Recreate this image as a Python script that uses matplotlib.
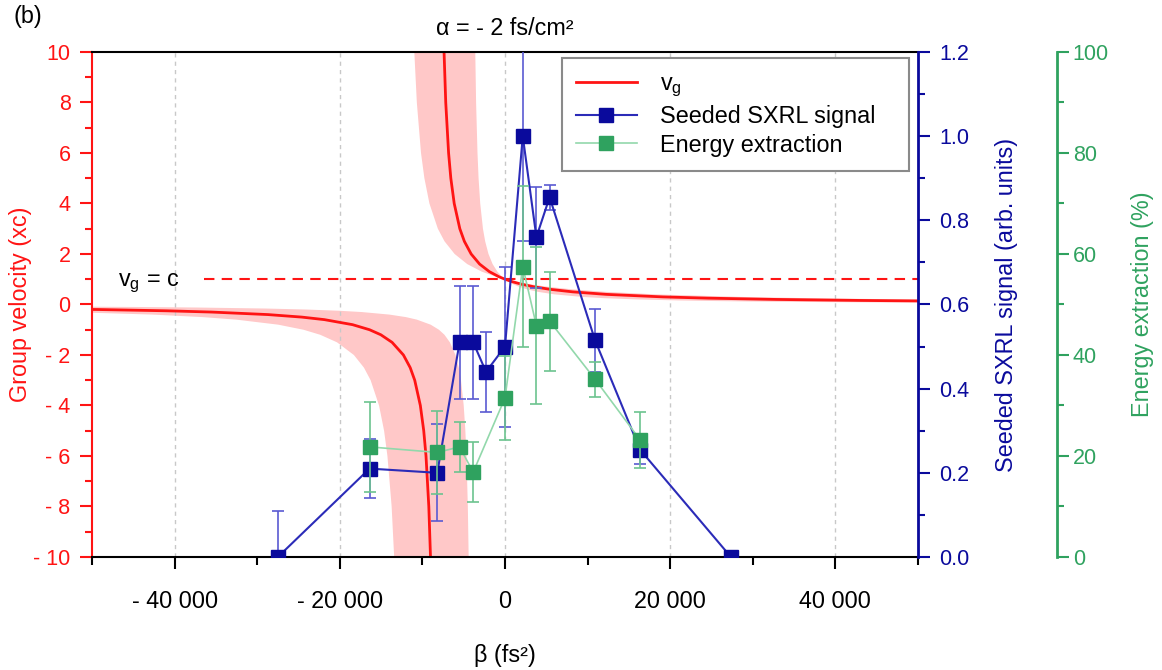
import matplotlib
matplotlib.use("Agg")
import matplotlib.pyplot as plt
from matplotlib.lines import Line2D
from matplotlib.ticker import MultipleLocator, FuncFormatter

plt.rcParams['font.family'] = ['Liberation Sans', 'DejaVu Sans']
plt.rcParams['mathtext.fontset'] = 'custom'
plt.rcParams['mathtext.rm'] = 'Liberation Sans'

# seeded SXRL signal (arb. units)
beta_sig = [-27500, -16400, -8200, -5500, -3850, -2300, 0, 2150, 3800, 5400, 10900, 16350, 27350]
sig = [0.0, 0.21, 0.20, 0.51, 0.51, 0.44, 0.50, 1.00, 0.76, 0.855, 0.515, 0.255, 0.0]
sig_err = [0.11, 0.07, 0.115, 0.135, 0.135, 0.095, 0.19, 0.25, 0.12, 0.03, 0.075, 0.035, 0.0]

# energy extraction (%)
beta_en = [-16400, -8200, -5500, -3850, 0, 2150, 3800, 5400, 10900, 16350]
energy = [21.8, 20.7, 21.8, 16.8, 31.5, 57.5, 45.8, 46.7, 35.2, 23.2]
energy_err = [8.9, 8.3, 4.9, 6.0, 8.3, 16.0, 15.5, 9.8, 3.5, 5.6]

# group velocity curve, upper branch (read at fixed vg levels)
vg_up = [10, 8, 6, 5, 4, 3, 2.5, 2, 1.6, 1.3, 1.1, 1.0, 0.9, 0.8, 0.7, 0.6, 0.5,
         0.4, 0.3, 0.25, 0.2, 0.16, 0.14, 0.12, 0.1, 0.08, 0.07]
beta_up_mid = [-7380, -7175, -6830, -6560, -6150, -5470, -4920, -4100, -3075, -1890, -745, 0,
               910, 2050, 3510, 5470, 8200, 12300, 19130, 24600, 32800, 43050, 50370,
               60130, 73800, 94300, 108940]
beta_up_wide = [-10980, -10675, -10170, -9760, -9150, -8130, -7320, -6100, -4575, -2815, -1110, 0,
                1355, 3050, 5230, 8130, 12200, 18300, 28470, 36600, 48800, 64050, 74940,
                89470, 109800, 140300, 162090]
beta_up_narrow = [-3600, -3500, -3330, -3200, -3000, -2670, -2400, -2000, -1500, -920, -365, 0,
                  445, 1000, 1715, 2670, 4000, 6000, 9330, 12000, 16000, 21000, 24570,
                  29330, 36000, 46000, 53140]

# lower branch
vg_lo = [-10, -8, -6, -5, -4, -3, -2.5, -2, -1.5, -1.2, -1, -0.8, -0.6, -0.5, -0.4,
         -0.3, -0.25, -0.2, -0.16, -0.12, -0.1, -0.08]
beta_lo_mid = [-9020, -9225, -9565, -9840, -10250, -10930, -11480, -12300, -13670, -15030,
               -16400, -18450, -21870, -24600, -28700, -35530, -41000, -49200, -59450,
               -76530, -90200, -110700]
beta_lo_wide = [-13420, -13725, -14235, -14640, -15250, -16270, -17080, -18300, -20330, -22370,
                -24400, -27450, -32530, -36600, -42700, -52870, -61000, -73200, -88450,
                -113870, -134200, -164700]
beta_lo_narrow = [-4400, -4500, -4665, -4800, -5000, -5330, -5600, -6000, -6670, -7330,
                  -8000, -9000, -10670, -12000, -14000, -17330, -20000, -24000, -29000,
                  -37330, -44000, -54000]

vg_c = 1.0
vg_c_start = -36400

red = '#ff1414'
band = '#ffc8c8'
navy = '#0a0a9c'
blue_line = '#2b2bb8'
blue_err = '#5a5ad2'
green = '#2fa25f'
green_line = '#92d8ab'
green_err = '#6cc38f'
fs = 16.8
fs_y = 15.5

fig = plt.figure(figsize=(11.62, 6.70), dpi=100)
ax = fig.add_axes([0.0792, 0.1687, 0.7108, 0.7537])
ax2 = ax.twinx()
ax3 = ax.twinx()

# vg curve + uncertainty band
ax.fill_betweenx(vg_up, beta_up_wide, beta_up_narrow, color=band, lw=0)
ax.fill_betweenx(vg_lo, beta_lo_wide, beta_lo_narrow, color=band, lw=0)
ax.plot(beta_up_mid, vg_up, color=red, lw=2)
ax.plot(beta_lo_mid, vg_lo, color=red, lw=2)
ax.plot([vg_c_start, 50000], [vg_c, vg_c], color=red, lw=1.5, dashes=(5, 3.5))
ax.text(-46900, 0.85, r'v$_\mathregular{g}$ = c', fontsize=fs, va='center', ha='left')

ax.set_xlim(-50000, 50000)
ax.set_ylim(-10, 10)
ax.xaxis.set_major_locator(MultipleLocator(20000))
ax.xaxis.set_minor_locator(MultipleLocator(10000))
ax.yaxis.set_major_locator(MultipleLocator(2))
ax.yaxis.set_minor_locator(MultipleLocator(1))


def neg_fmt(v, pos):
    s = '{:,.0f}'.format(abs(v)).replace(',', ' ')
    if v < 0:
        return '- ' + s
    return s


ax.xaxis.set_major_formatter(FuncFormatter(neg_fmt))
ax.yaxis.set_major_formatter(FuncFormatter(neg_fmt))
ax.xaxis.grid(True, which='major', color='#c8c8c8', lw=1, linestyle=(0, (3, 3)))
ax.tick_params(axis='x', which='major', length=8.5, width=1.5, pad=15.5, labelsize=fs)
ax.tick_params(axis='x', which='minor', length=5.5, width=1.5)
ax.tick_params(axis='y', which='both', colors=red, labelsize=fs_y, width=1.5)
ax.tick_params(axis='y', which='major', length=8.5, pad=7)
ax.tick_params(axis='y', which='minor', length=5)
ax.spines['left'].set_color(red)
ax.spines['left'].set_linewidth(1.5)
ax.spines['right'].set_visible(False)
for s in ['top', 'bottom']:
    ax.spines[s].set_linewidth(1.5)
ax.set_xlabel('β (fs²)', fontsize=fs, labelpad=22)
ax.set_ylabel('Group velocity (xc)', fontsize=fs, color=red, labelpad=1)
ax.set_title('α = - 2 fs/cm²', fontsize=fs, pad=12)

# seeded signal
ax2.errorbar(beta_sig, sig, yerr=sig_err, fmt='none', ecolor=blue_err, elinewidth=1.2,
             capsize=4.3, capthick=1.2)
ax2.plot(beta_sig, sig, '-s', color=blue_line, lw=1.5, ms=9.5, mfc=navy, mec=navy)
ax2.set_ylim(0, 1.2)
ax2.yaxis.set_major_locator(MultipleLocator(0.2))
ax2.yaxis.set_minor_locator(MultipleLocator(0.1))
ax2.yaxis.set_major_formatter(FuncFormatter(lambda v, p: '%.1f' % v))
ax2.tick_params(axis='y', which='both', colors=navy, labelsize=fs_y, width=1.5)
ax2.tick_params(axis='y', which='major', length=8.5, pad=7)
ax2.tick_params(axis='y', which='minor', length=5)
for s in ['left', 'top', 'bottom']:
    ax2.spines[s].set_visible(False)
ax2.spines['right'].set_color(navy)
ax2.spines['right'].set_linewidth(2)
ax2.set_ylabel('Seeded SXRL signal (arb. units)', fontsize=fs, color=navy, labelpad=18.5)

# energy extraction
ax3.errorbar(beta_en, energy, yerr=energy_err, fmt='none', ecolor=green_err, elinewidth=1.2,
             capsize=4.3, capthick=1.2)
ax3.plot(beta_en, energy, '-s', color=green_line, lw=1.2, ms=9.5, mfc=green, mec=green)
ax3.set_ylim(0, 100)
ax3.yaxis.set_major_locator(MultipleLocator(20))
ax3.yaxis.set_minor_locator(MultipleLocator(10))
ax3.tick_params(axis='y', which='both', colors=green, labelsize=fs_y, width=1.5)
ax3.tick_params(axis='y', which='major', length=8.5, pad=3)
ax3.tick_params(axis='y', which='minor', length=5)
for s in ['left', 'top', 'bottom']:
    ax3.spines[s].set_visible(False)
ax3.spines['right'].set_position(('axes', 1.168))
ax3.spines['right'].set_color(green)
ax3.spines['right'].set_linewidth(2)
ax3.set_ylabel('Energy extraction (%)', fontsize=fs, color=green, labelpad=16)

handles = [
    Line2D([], [], color=red, lw=2),
    Line2D([], [], color=blue_line, lw=1.5, marker='s', ms=9.5, mfc=navy, mec=navy),
    Line2D([], [], color=green_line, lw=1.2, marker='s', ms=9.5, mfc=green, mec=green),
]
labels = [r'v$_\mathregular{g}$', 'Seeded SXRL signal', 'Energy extraction']
leg = ax3.legend(handles, labels, loc='upper left', bbox_to_anchor=(0.569, 0.988, 0.420, 0.0),
                 mode='expand', borderaxespad=0, fontsize=fs, frameon=True, fancybox=False,
                 framealpha=1, edgecolor='#8a8a8a', handlelength=2.6, handletextpad=1.0,
                 labelspacing=0.25, borderpad=0.6)
leg.get_frame().set_linewidth(1.5)

fig.text(0.012, 0.992, '(b)', fontsize=fs, va='top', ha='left')

fig.savefig('out.png', dpi=100)
